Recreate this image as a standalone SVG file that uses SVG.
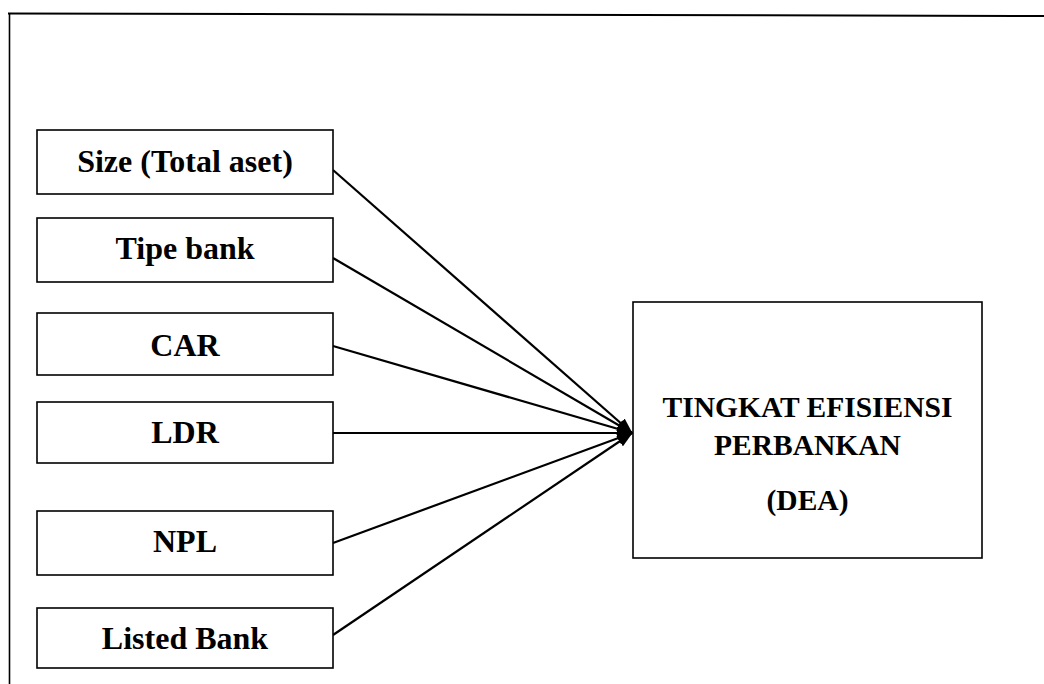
<svg xmlns="http://www.w3.org/2000/svg" width="1044" height="684" viewBox="0 0 1044 684">
<style>
.box{fill:#fff;stroke:#000;stroke-width:1.6}
.t{font-family:"Liberation Serif","Times New Roman",serif;font-weight:bold;fill:#000;text-anchor:middle}
.l{font-size:32px}
.r{font-size:29.5px}
.c{stroke:#000;stroke-width:2.2;fill:none;marker-end:url(#ah)}
</style>
<defs>
<marker id="ah" viewBox="0 0 16 12" refX="15" refY="6" markerWidth="16" markerHeight="12" markerUnits="userSpaceOnUse" orient="auto">
<path d="M0,0 L16,6 L0,12 z" fill="#000"/>
</marker>
</defs>
<g id="frame" stroke="#000" fill="none">
<line x1="8" y1="13.5" x2="1044" y2="16" stroke-width="2"/>
<line x1="9.5" y1="14" x2="9.5" y2="684" stroke-width="1.6"/>
</g>
<g id="connectors">
<line class="c" x1="333" y1="170" x2="632" y2="433"/>
<line class="c" x1="333" y1="258" x2="632" y2="433"/>
<line class="c" x1="333" y1="346" x2="632" y2="433"/>
<line class="c" x1="333" y1="433" x2="632" y2="433"/>
<line class="c" x1="333" y1="543" x2="632" y2="433"/>
<line class="c" x1="333" y1="635" x2="632" y2="433"/>
</g>
<g id="size"><rect class="box" x="37" y="130" width="296" height="64"/><text class="t l" x="185" y="172">Size (Total aset)</text></g>
<g id="tipe"><rect class="box" x="37" y="218" width="296" height="64"/><text class="t l" x="185" y="259">Tipe bank</text></g>
<g id="car"><rect class="box" x="37" y="313" width="296" height="62"/><text class="t l" x="185" y="356">CAR</text></g>
<g id="ldr"><rect class="box" x="37" y="402" width="296" height="61"/><text class="t l" x="185" y="443">LDR</text></g>
<g id="npl"><rect class="box" x="37" y="511" width="296" height="64"/><text class="t l" x="185" y="552">NPL</text></g>
<g id="listed"><rect class="box" x="37" y="608" width="296" height="60"/><text class="t l" x="185" y="649">Listed Bank</text></g>
<g id="dea"><rect class="box" x="633" y="302" width="349" height="256"/>
<text class="t r" x="807.5" y="417">TINGKAT EFISIENSI</text>
<text class="t r" x="807.5" y="455">PERBANKAN</text>
<text class="t r" x="807.5" y="510">(DEA)</text></g>
</svg>
